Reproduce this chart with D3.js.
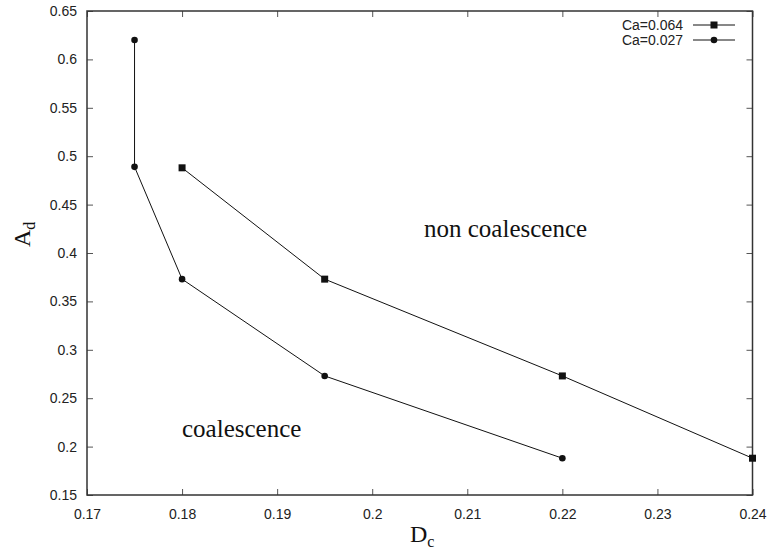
<!DOCTYPE html>
<html>
<head>
<meta charset="utf-8">
<script src="https://cdn.jsdelivr.net/npm/d3@7/dist/d3.min.js"></script>
<style>
  body { margin: 0; background: #fff; }
  svg { display: block; }
  .tick text { font-family: "Liberation Sans", Arial, sans-serif; font-size: 14px; fill: #222; }
  .lab { font-family: "Liberation Serif", "Times New Roman", serif; fill: #111; }
</style>
</head>
<body>
<svg width="769" height="551"></svg>
<script>
// data
var xTicks = [0.17, 0.18, 0.19, 0.2, 0.21, 0.22, 0.23, 0.24];
var yTicks = [0.15, 0.2, 0.25, 0.3, 0.35, 0.4, 0.45, 0.5, 0.55, 0.6, 0.65];

var ca064X = [0.18, 0.195, 0.22, 0.24];
var ca064Y = [0.488, 0.373, 0.273, 0.188];

var ca027X = [0.175, 0.175, 0.18, 0.195, 0.22];
var ca027Y = [0.62, 0.489, 0.373, 0.273, 0.188];

var seriesNames = ["Ca=0.064", "Ca=0.027"];

var svg = d3.select('svg');
var padding = {t: 11, r: 16, b: 56, l: 87};
var plotW = 752.5 - padding.l;
var plotH = 495 - padding.t;

var xScale = d3.scaleLinear().domain([0.17, 0.24]).range([0, plotW]);
var yScale = d3.scaleLinear().domain([0.15, 0.65]).range([plotH, 0]);

var g = svg.append('g').attr('transform', 'translate(' + [padding.l, padding.t] + ')');

var fmt = d3.format('~g');

// axes, ticks pointing inward
var xAxis = d3.axisBottom(xScale).tickValues(xTicks).tickSizeInner(-6).tickSizeOuter(0).tickPadding(14).tickFormat(fmt);
var yAxis = d3.axisLeft(yScale).tickValues(yTicks).tickSizeInner(-6).tickSizeOuter(0).tickPadding(10).tickFormat(fmt);
var xTop = d3.axisTop(xScale).tickValues(xTicks).tickSizeInner(-6).tickSizeOuter(0).tickFormat('');
var yRight = d3.axisRight(yScale).tickValues(yTicks).tickSizeInner(-6).tickSizeOuter(0).tickFormat('');

function styleAxis(sel) {
    sel.select('.domain').remove();
    sel.selectAll('.tick line').attr('stroke', '#555').attr('stroke-width', 1);
}

g.append('g').attr('transform', 'translate(0,' + plotH + ')').call(xAxis).call(styleAxis);
g.append('g').call(yAxis).call(styleAxis);
g.append('g').call(xTop).call(styleAxis);
g.append('g').attr('transform', 'translate(' + plotW + ',0)').call(yRight).call(styleAxis);

// legend area hides the top-right ticks? no - keep frame
g.append('rect')
    .attr('x', 0).attr('y', 0)
    .attr('width', plotW).attr('height', plotH)
    .attr('fill', 'none')
    .attr('stroke', '#333')
    .attr('stroke-width', 1.5);

// series
var line = d3.line()
    .x(function(d) { return xScale(d[0]); })
    .y(function(d) { return yScale(d[1]); });

var s064 = ca064X.map(function(x, i) { return [x, ca064Y[i]]; });
var s027 = ca027X.map(function(x, i) { return [x, ca027Y[i]]; });

g.append('path').datum(s064).attr('d', line).attr('fill', 'none').attr('stroke', '#111').attr('stroke-width', 1);
g.append('path').datum(s027).attr('d', line).attr('fill', 'none').attr('stroke', '#111').attr('stroke-width', 1);

g.selectAll('.sq').data(s064).enter().append('rect')
    .attr('class', 'sq')
    .attr('x', function(d) { return xScale(d[0]) - 3.5; })
    .attr('y', function(d) { return yScale(d[1]) - 3.5; })
    .attr('width', 7).attr('height', 7)
    .attr('fill', '#111');

g.selectAll('.dot').data(s027).enter().append('circle')
    .attr('class', 'dot')
    .attr('cx', function(d) { return xScale(d[0]); })
    .attr('cy', function(d) { return yScale(d[1]); })
    .attr('r', 3.3)
    .attr('fill', '#111');

// legend
var leg = svg.append('g').attr('transform', 'translate(0,0)');
seriesNames.forEach(function(name, i) {
    var y = 25 + i * 15;
    leg.append('text')
        .attr('x', 683).attr('y', y).attr('dy', '0.35em')
        .attr('text-anchor', 'end')
        .style('font-family', '"Liberation Sans", Arial, sans-serif')
        .style('font-size', '14px')
        .attr('fill', '#222')
        .text(name);
    leg.append('line')
        .attr('x1', 693).attr('x2', 735).attr('y1', y).attr('y2', y)
        .attr('stroke', '#111').attr('stroke-width', 1);
    if (i == 0) {
        leg.append('rect').attr('x', 714 - 3.5).attr('y', y - 3.5).attr('width', 7).attr('height', 7).attr('fill', '#111');
    } else {
        leg.append('circle').attr('cx', 714).attr('cy', y).attr('r', 3.3).attr('fill', '#111');
    }
});

// region labels
svg.append('text').attr('class', 'lab')
    .attr('x', 424).attr('y', 237)
    .style('font-size', '25px')
    .text('non coalescence');
svg.append('text').attr('class', 'lab')
    .attr('x', 182).attr('y', 437)
    .style('font-size', '25px')
    .text('coalescence');

// axis titles
var xt = svg.append('text').attr('class', 'lab')
    .attr('x', 410).attr('y', 542)
    .style('font-size', '24px');
xt.append('tspan').text('D');
xt.append('tspan').attr('dy', 5).style('font-size', '16px').text('c');

var yt = svg.append('text').attr('class', 'lab')
    .attr('transform', 'translate(30,247) rotate(-90)')
    .style('font-size', '24px');
yt.append('tspan').text('A');
yt.append('tspan').attr('dy', 5).style('font-size', '16px').text('d');
</script>
</body>
</html>
